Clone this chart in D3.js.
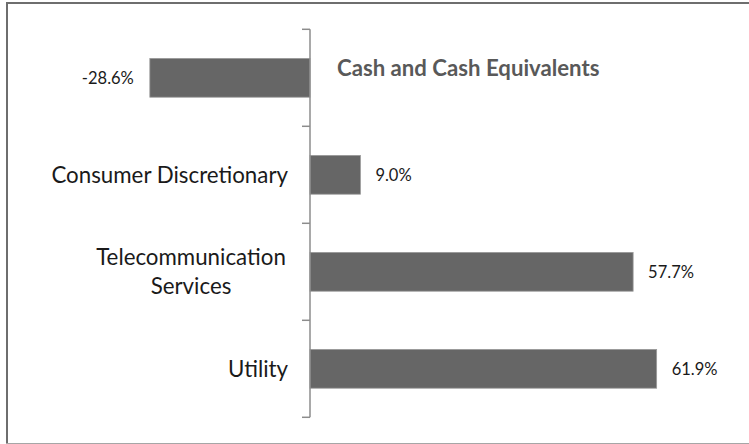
<!DOCTYPE html>
<html>
<head>
<meta charset="utf-8">
<script src="https://cdn.jsdelivr.net/npm/d3@7"></script>
<style>
  html, body { margin: 0; padding: 0; background: #fff; }
  svg { display: block; }
</style>
</head>
<body>
<div id="container"></div>
<script>
//### DATA ###
const categories = [ 'Cash and Cash Equivalents', 'Consumer Discretionary', 'Telecommunication Services', 'Utility' ];
const values = [ -28.6, 9.0, 57.7, 61.9 ];
const valueLabels = [ '-28.6%', '9.0%', '57.7%', '61.9%' ];
// label lines (wrapped like the original)
const categoryLines = [ [ 'Cash and Cash Equivalents' ], [ 'Consumer Discretionary' ], [ 'Telecommunication', 'Services' ], [ 'Utility' ] ];
const xDomain = [ -40, 70 ];

//### LAYOUT ###
const width = 749;
const height = 444;
const barFill = '#666666';
const axisColor = '#8c8c8c';
const fontFamily = 'Lato, "Open Sans", sans-serif';

const svg = d3.select( '#container' )
  .append( 'svg' )
  .attr( 'width', width )
  .attr( 'height', height );

//_____ FRAME _____
svg.append( 'line' ).attr( 'x1', 6 ).attr( 'x2', width ).attr( 'y1', 3 ).attr( 'y2', 3 )
  .attr( 'stroke', '#6e6e6e' ).attr( 'stroke-width', 2 );
svg.append( 'line' ).attr( 'x1', 7 ).attr( 'x2', 7 ).attr( 'y1', 2 ).attr( 'y2', 444 )
  .attr( 'stroke', '#6e6e6e' ).attr( 'stroke-width', 2 );
svg.append( 'line' ).attr( 'x1', 6 ).attr( 'x2', width ).attr( 'y1', 443.5 ).attr( 'y2', 443.5 )
  .attr( 'stroke', '#a6a6a6' ).attr( 'stroke-width', 1 );

//_____ SCALES _____
const x = d3.scaleLinear()
  .domain( xDomain )
  .range( [ 86, 702 ] );

const y = d3.scaleBand()
  .domain( categories )
  .range( [ 29.3, 417.3 ] )
  .paddingInner( 0.6 )
  .paddingOuter( 0.3 );

//_____ BARS _____
svg.selectAll( 'rect.bar' )
  .data( categories )
  .enter()
  .append( 'rect' )
  .attr( 'class', 'bar' )
  .attr( 'x', ( d, i ) => x( Math.min( 0, values[ i ] ) ) )
  .attr( 'width', ( d, i ) => Math.abs( x( values[ i ] ) - x( 0 ) ) )
  .attr( 'y', d => y( d ) )
  .attr( 'height', y.bandwidth() )
  .attr( 'fill', barFill )
  .attr( 'stroke', '#9a9a9a' )
  .attr( 'stroke-width', 0.8 );

//_____ AXIS (category) _____
// vertical axis line + ticks between categories
const step = ( 417.3 - 29.3 ) / categories.length;
const tickYs = d3.range( categories.length + 1 ).map( i => 29.3 + i * step );
svg.append( 'line' )
  .attr( 'x1', x( 0 ) ).attr( 'x2', x( 0 ) )
  .attr( 'y1', tickYs[ 0 ] ).attr( 'y2', tickYs[ tickYs.length - 1 ] )
  .attr( 'stroke', axisColor ).attr( 'stroke-width', 1.5 );
svg.selectAll( 'line.tick-mark' )
  .data( tickYs )
  .enter()
  .append( 'line' )
  .attr( 'class', 'tick-mark' )
  .attr( 'x1', x( 0 ) - 8 ).attr( 'x2', x( 0 ) )
  .attr( 'y1', d => d ).attr( 'y2', d => d )
  .attr( 'stroke', axisColor ).attr( 'stroke-width', 1.5 );

//_____ CATEGORY LABELS _____
const catG = svg.selectAll( 'text.cat' )
  .data( categories )
  .enter()
  .append( 'text' )
  .attr( 'class', 'cat' )
  .attr( 'font-family', fontFamily )
  .attr( 'font-size', ( d, i ) => values[ i ] < 0 ? 22.2 : 22.3 )
  .attr( 'text-anchor', ( d, i ) => values[ i ] < 0 ? 'start' : 'end' )
  .attr( 'font-weight', ( d, i ) => values[ i ] < 0 ? 'bold' : 'normal' )
  .attr( 'fill', ( d, i ) => values[ i ] < 0 ? '#595959' : '#1a1a1a' );

catG.each( function ( d, i ) {
  const lines = categoryLines[ i ];
  const lh = 29;
  //--- the negative bar's label sits a little above its bar, right of the axis
  const shift = values[ i ] < 0 ? -10 : 0;
  const cy = y( d ) + y.bandwidth() / 2 - ( lines.length - 1 ) * lh / 2 + shift;
  const el = d3.select( this );
  const xPos = values[ i ] < 0 ? x( 0 ) + 27 : x( 0 ) - 22;
  lines.forEach( ( ln, j ) => {
    el.append( 'tspan' )
      .attr( 'x', xPos )
      .attr( 'y', cy + j * lh )
      .attr( 'dy', '0.35em' )
      .attr( 'text-anchor', lines.length > 1 ? 'middle' : null )
      .attr( 'dx', lines.length > 1 ? -97 : 0 )
      .text( ln );
  } );
} );

//_____ VALUE LABELS _____
svg.selectAll( 'text.val' )
  .data( categories )
  .enter()
  .append( 'text' )
  .attr( 'class', 'val' )
  .attr( 'font-family', fontFamily )
  .attr( 'font-size', 16.5 )
  .attr( 'fill', '#1a1a1a' )
  .attr( 'text-anchor', ( d, i ) => values[ i ] < 0 ? 'end' : 'start' )
  .attr( 'x', ( d, i ) => values[ i ] < 0 ? x( values[ i ] ) - 16 : x( values[ i ] ) + 15 )
  .attr( 'y', d => y( d ) + y.bandwidth() / 2 )
  .attr( 'dy', '0.35em' )
  .text( ( d, i ) => valueLabels[ i ] );
</script>
</body>
</html>
